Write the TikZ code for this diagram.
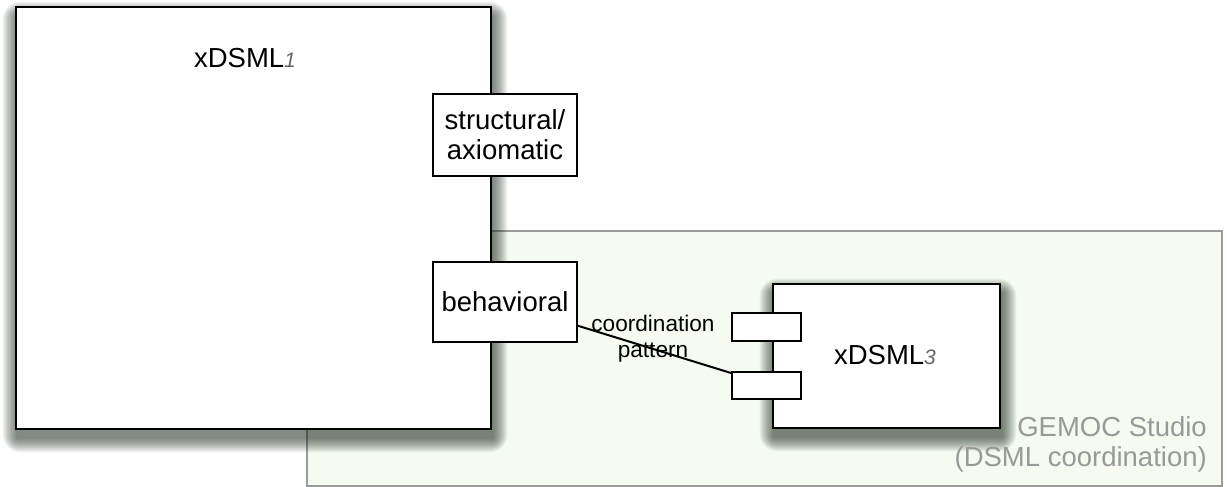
\documentclass[tikz,border=0pt]{standalone}
\usepackage{fontspec}
\setmainfont{Liberation Sans}
\usetikzlibrary{calc}
\definecolor{studiofill}{HTML}{F5FBF1}
\definecolor{studioline}{HTML}{9A9A9A}
\definecolor{studiotext}{HTML}{999999}
\definecolor{shadowcol}{HTML}{1E2A1E}
\pgfdeclarelayer{bottom}
\pgfdeclarelayer{shadowlayer}
\pgfsetlayers{bottom,shadowlayer,main}
\tikzset{
  box/.style={draw=black, line width=2pt, fill=white, inner sep=0pt},
  studio/.style={draw=studioline, line width=1.5pt, fill=studiofill, inner sep=0pt},
  bigtxt/.style={font=\fontsize{27.5}{30}\selectfont, inner sep=0pt},
  smalltxt/.style={font=\fontsize{22.6}{25.5}\selectfont, inner sep=0pt},
  link/.style={draw=black, line width=2pt},
  shadowstep/.style={fill=shadowcol, opacity=0.042},
}
\newcommand{\idx}[1]{{\itshape\color{black!60}\fontsize{21}{24}\selectfont #1}}
\newcommand{\softshadow}[1]{%
  \begin{pgfonlayer}{shadowlayer}
    \foreach \r in {1,...,18}{
      \fill[shadowstep, rounded corners=\r pt]
        ($(#1.north west)+(2-0.8*\r,10-0.8*\r)$) rectangle ($(#1.south east)+(1+0.8*\r,8+0.8*\r)$);
    }
  \end{pgfonlayer}}
\begin{document}
\begin{tikzpicture}[x=1pt,y=-1pt]
\useasboundingbox (0,0) rectangle (1227,487);
% GEMOC Studio area
\begin{pgfonlayer}{bottom}
\node[studio, minimum width=915pt, minimum height=255pt] (studio) at (764.5,358.5) {};
\end{pgfonlayer}
% xDSML1
\node[box, minimum width=475pt, minimum height=422pt] (x1) at (253.5,218) {};
\softshadow{x1}
\node[bigtxt, anchor=base] (x1lab) at (245,67) {xDSML\idx{1}};
\node[box, minimum width=144pt, minimum height=82pt, bigtxt, align=center] (struct) at (505,135) {structural/\\axiomatic};
\node[box, minimum width=144pt, minimum height=80pt, bigtxt] (beh) at (505,302) {behavioral};
% xDSML3
\node[box, minimum width=227pt, minimum height=144pt] (x3) at (886.5,356) {};
\softshadow{x3}
\node[bigtxt, anchor=base] (x3lab) at (885,364) {xDSML\idx{3}};
\node[box, minimum width=69pt, minimum height=28pt] (p1) at (766.5,327) {};
\node[box, minimum width=69pt, minimum height=27pt] (p2) at (766.5,385.5) {};
% studio label
\node[bigtxt, anchor=base east, align=right, text=studiotext] (studiolab) at (1207,466) {GEMOC Studio\\(DSML coordination)};
% connector
\coordinate (cstart) at ($(beh.south east)!0.21!(beh.north east)$);
\coordinate (cend) at ($(p2.north west)+(0,2)$);
\draw[link] (cstart) -- (cend);
\node[smalltxt, align=center, anchor=base] (clab) at (653,357) {coordination\\pattern};
\end{tikzpicture}
\end{document}
